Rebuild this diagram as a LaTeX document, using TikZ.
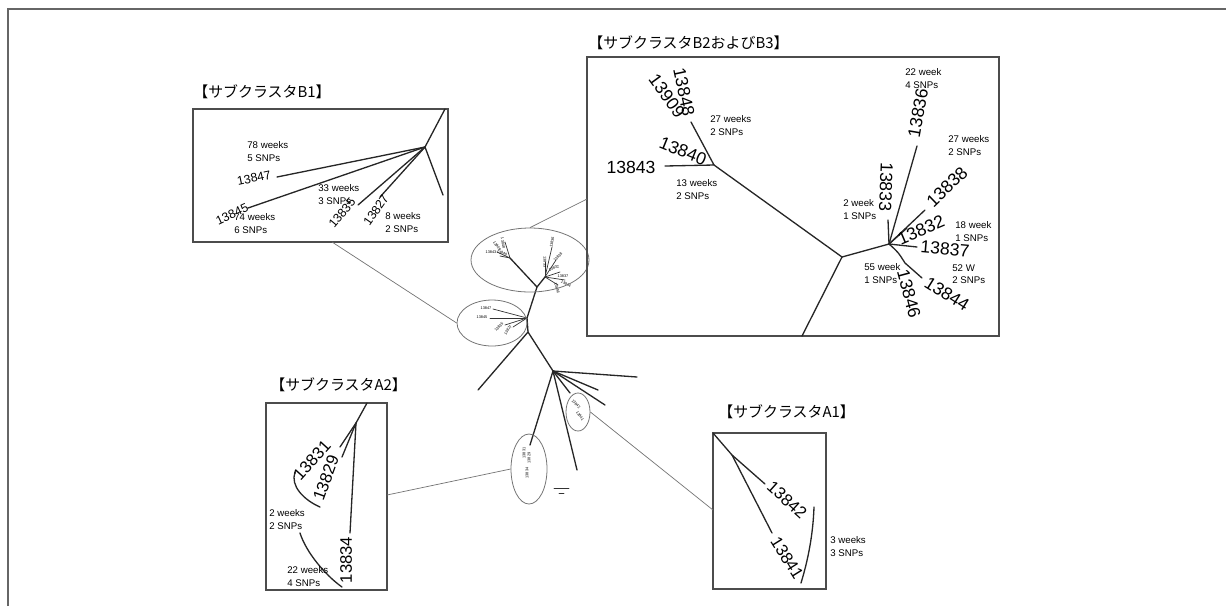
\documentclass[tikz,border=0pt]{standalone}
\usepackage{fontspec}
\setmainfont{Liberation Sans}
\newfontfamily\cjk{Noto Sans CJK JP}
\usetikzlibrary{shapes.geometric}

\begin{document}
\begin{tikzpicture}[
  x=0.02cm, y=-0.02cm,
  branch/.style={draw=black!85, line width=0.75pt, line cap=round},
  twig/.style={draw=black!80, line width=0.4pt, line cap=round},
  zoombox/.style={draw=black!70, line width=0.6pt},
  link/.style={draw=black!55, line width=0.4pt},
  clus/.style={ellipse, draw=black!55, line width=0.45pt, inner sep=0pt},
  boxtitle/.style={font=\cjk\fontsize{8.5}{10}\selectfont, anchor=west, inner sep=0pt},
  bigid/.style={font=\fontsize{10}{12}\selectfont, inner sep=0pt},
  midid/.style={font=\fontsize{9.5}{11}\selectfont, inner sep=0pt},
  smallid/.style={font=\fontsize{7}{8}\selectfont, inner sep=0pt},
  tinyid/.style={font=\fontsize{2.2}{2.5}\selectfont, inner sep=0pt},
  note/.style={font=\fontsize{5.5}{7.2}\selectfont, align=left, anchor=north west, inner sep=0pt}
]
\useasboundingbox (0,0) rectangle (1226,606);

% ===== frame =====
\draw[black!60, line width=0.6pt] (8,606) -- (8,9) -- (1226,9);

% ===== whole tree (centre) =====
\coordinate (n1) at (527,318);   % B1 node
\coordinate (n2) at (537,287);
\coordinate (nB2) at (510,258);
\coordinate (nB3) at (545,277);
\coordinate (n5) at (528,332);
\coordinate (n4) at (553,371);   % A node
\draw[branch] (n4) -- (n5) -- (n1) -- (n2) -- (nB2);
\draw[branch] (n2) -- (nB3);
\draw[branch] (n5) -- (478,390);
\draw[branch] (n4) -- (637,377);
\draw[branch] (n4) -- (598,390);
\draw[branch] (n4) -- (605,405);
\draw[branch] (n4) -- (570,393);
\draw[branch] (n4) -- (577,470);
\draw[branch] (n4) -- (530,445);

% B2 / B3 mini
\draw[twig] (nB2) -- (505,242);
\draw[twig] (nB2) -- (497,252);
\draw[twig] (nB2) -- (500,256);
\draw[twig] (nB3) -- (552,247);
\draw[twig] (nB3) -- (545,262);
\draw[twig] (nB3) -- (556,260);
\draw[twig] (nB3) -- (560,272);
\draw[twig] (nB3) -- (565,280);
\draw[twig] (nB3) -- (558,285);
\node[tinyid, rotate=-80] (m48) at (503,243) {13848};
\node[tinyid, rotate=-55] (m09) at (497,246) {13909};
\node[tinyid] (m43) at (491,252) {13843};
\node[tinyid, rotate=-20] (m40) at (502,253) {13840};
\node[tinyid, rotate=80] (m36) at (552,242) {13836};
\node[tinyid, rotate=-90] (m33) at (545,262) {13833};
\node[tinyid, rotate=45] (m38) at (558,257) {13838};
\node[tinyid, rotate=20] (m32) at (554,268) {13832};
\node[tinyid] (m37) at (563,276) {13837};
\node[tinyid, rotate=-30] (m44) at (566,284) {13844};
\node[tinyid, rotate=-75] (m46) at (557,288) {13846};

% B1 mini
\draw[twig] (n1) -- (493,309);
\draw[twig] (n1) -- (490,318);
\draw[twig] (n1) -- (505,325);
\draw[twig] (n1) -- (513,327);
\node[tinyid] (m47) at (486,308) {13847};
\node[tinyid] (m45) at (482,317) {13845};
\node[tinyid, rotate=45] (m35) at (499,327) {13835};
\node[tinyid, rotate=55] (m27) at (508,330) {13827};

% A1 / A2 mini
\node[tinyid, rotate=-45] (m42) at (576,404) {13842};
\node[tinyid, rotate=-55] (m41) at (580,416) {13841};
\node[tinyid, rotate=90] (m31) at (524,453) {13831};
\node[tinyid, rotate=90] (m29) at (529,458) {13829};
\node[tinyid, rotate=90] (m34) at (527,473) {13834};

% scale bar
\draw[twig] (554,488) -- (569,488);
\draw[twig] (559,493) -- (564,493);

% cluster rings
\node[clus, minimum width=2.36cm, minimum height=1.28cm] (ellB23) at (530,260) {};
\node[clus, minimum width=1.4cm, minimum height=0.92cm] (ellB1) at (492,323) {};
\node[clus, minimum width=0.48cm, minimum height=0.76cm] (ellA1) at (578,412) {};
\node[clus, minimum width=0.72cm, minimum height=1.4cm] (ellA2) at (529,469) {};

% ===== sub-cluster B1 =====
\draw[zoombox] (193,109) rectangle (448,242);
\node[boxtitle] (tB1) at (193,92) {【サブクラスタB1】};
\coordinate (pB1) at (425,147);
\draw[branch] (445,109) -- (pB1) -- (443,195);
\draw[branch] (pB1) -- (277,177);
\draw[branch] (pB1) -- (248,208);
\draw[branch] (pB1) -- (358,205);
\draw[branch] (pB1) -- (380,197);
\node[smallid, rotate=12] (b1n47) at (254,178) {13847};
\node[smallid, rotate=25] (b1n45) at (232,214) {13845};
\node[smallid, rotate=50] (b1n35) at (342,213) {13835};
\node[smallid, rotate=55] (b1n27) at (376,210) {13827};
\node[note] (b1w78) at (247,141) {78 weeks\\5 SNPs};
\node[note] (b1w33) at (318,184) {33 weeks\\3 SNPs};
\node[note] (b1w74) at (234,213) {74 weeks\\6 SNPs};
\node[note] (b1w8) at (385,212) {8 weeks\\2 SNPs};
\coordinate (lB1) at (332,242);
\draw[link] (lB1) -- (ellB1.west);

% ===== sub-cluster B2 and B3 =====
\draw[zoombox] (587,57) rectangle (999,336);
\node[boxtitle] (tB23) at (588,43) {【サブクラスタB2およびB3】};
\coordinate (pA) at (714,165);
\coordinate (pB) at (842,257);
\coordinate (pC) at (889,244);
\draw[branch] (665,166) -- (pA) -- (691,122);
\draw[branch] (pA) -- (pB) -- (802,336);
\draw[branch] (pB) -- (pC);
\draw[branch] (pC) -- (917,146);
\draw[branch] (pC) -- (888,220);
\draw[branch] (pC) -- (925,210);
\draw[branch] (pC) -- (907,228);
\draw[branch] (pC) -- (917,247);
\draw[branch] (pC) .. controls (898,252) .. (905,263) -- (922,278);
\node[bigid] (b2n43) at (631,167) {13843};
\node[bigid, rotate=-22] (b2n40) at (683,151) {13840};
\node[bigid, rotate=-78] (b2n48) at (684,92) {13848};
\node[bigid, rotate=-54] (b2n09) at (667,96) {13909};
\node[bigid, rotate=80] (b3n36) at (918,113) {13836};
\node[bigid, rotate=-92] (b3n33) at (886,187) {13833};
\node[bigid, rotate=44] (b3n38) at (947,187) {13838};
\node[bigid, rotate=23] (b3n32) at (921,230) {13832};
\node[bigid, rotate=-5] (b3n37) at (945,249) {13837};
\node[bigid, rotate=-75] (b3n46) at (909,294) {13846};
\node[bigid, rotate=-32] (b3n44) at (947,294) {13844};
\node[note] (b2w27) at (710,115) {27 weeks\\2 SNPs};
\node[note] (b2w13) at (676,179) {13 weeks\\2 SNPs};
\node[note] (b3w22) at (905,68) {22 week\\4 SNPs};
\node[note] (b3w27) at (948,135) {27 weeks\\2 SNPs};
\node[note] (b3w2) at (843,199) {2 week\\1 SNPs};
\node[note] (b3w18) at (955,221) {18 week\\1 SNPs};
\node[note] (b3w55) at (864,263) {55 week\\1 SNPs};
\node[note] (b3w52) at (952,264) {52 W\\2 SNPs};
\coordinate (lB23) at (587,199);
\draw[link] (ellB23.north) -- (lB23);

% ===== sub-cluster A2 =====
\draw[zoombox] (266,403) rectangle (387,590);
\node[boxtitle] (tA2) at (270,385) {【サブクラスタA2】};
\coordinate (pA2) at (356,423);
\draw[branch] (367,403) -- (pA2);
\draw[branch] (pA2) -- (340,447);
\draw[branch] (pA2) -- (342,457);
\draw[branch] (pA2) -- (350,533);
\draw[branch] (295,472) .. controls (290,486) and (304,500) .. (320,507);
\draw[branch] (300,533) .. controls (306,552) and (325,575) .. (342,587);
\node[midid, rotate=48] (a2n31) at (312,460) {13831};
\node[midid, rotate=70] (a2n29) at (326,478) {13829};
\node[midid, rotate=90] (a2n34) at (346,560) {13834};
\node[note] (a2w2) at (269,509) {2 weeks\\2 SNPs};
\node[note] (a2w22) at (287,566) {22 weeks\\4 SNPs};
\coordinate (lA2) at (387,495);
\draw[link] (lA2) -- (ellA2.west);

% ===== sub-cluster A1 =====
\draw[zoombox] (713,433) rectangle (826,589);
\node[boxtitle] (tA1) at (718,412) {【サブクラスタA1】};
\coordinate (pA1) at (713,433);
\coordinate (qA1) at (732,455);
\draw[branch] (pA1) -- (qA1) -- (765,484);
\draw[branch] (qA1) -- (772,533);
\draw[branch] (814,507) .. controls (813,535) and (808,560) .. (801,583);
\node[midid, rotate=-42] (a1n42) at (787,500) {13842};
\node[midid, rotate=-58] (a1n41) at (787,558) {13841};
\node[note] (a1w3) at (830,536) {3 weeks\\3 SNPs};
\coordinate (lA1) at (713,510);
\draw[link] (ellA1.east) -- (lA1);

\end{tikzpicture}
\end{document}
